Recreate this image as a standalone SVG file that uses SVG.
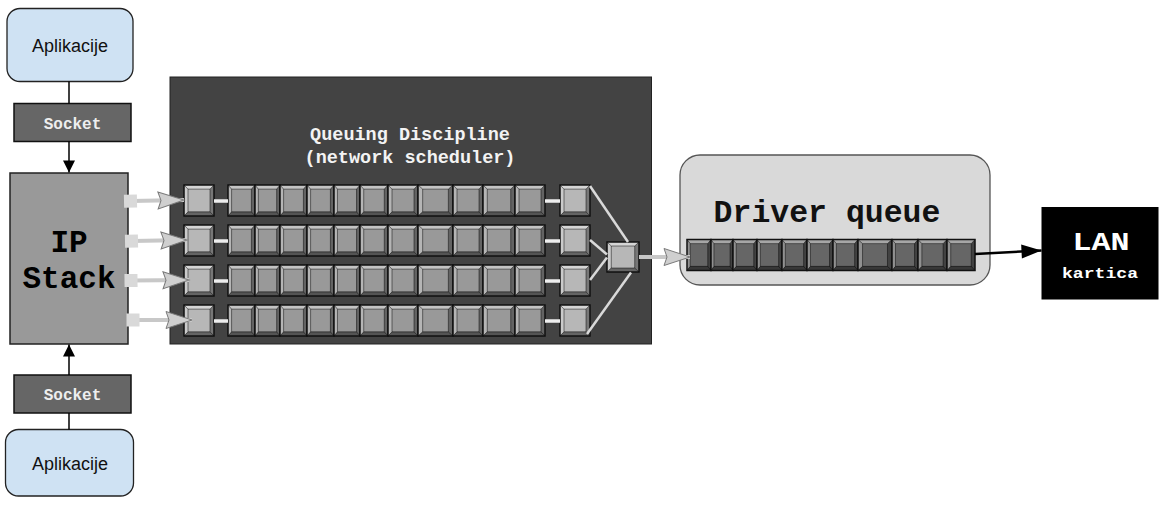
<svg xmlns="http://www.w3.org/2000/svg" xmlns:xlink="http://www.w3.org/1999/xlink" width="1161" height="505" viewBox="0 0 1161 505">
<style>
.app{fill:#cfe2f3;stroke:#222;stroke-width:1.3}
.apptxt{font-family:"Liberation Sans",Arial,sans-serif;font-size:18px;fill:#111;text-anchor:middle}
.sock{fill:#666;stroke:#111;stroke-width:1.5}
.mono{font-family:"Liberation Mono","Courier New",monospace;font-weight:bold;text-anchor:middle}
.socktxt{font-size:16px;fill:#eee}
.blk{stroke:#000;stroke-width:1.5;fill:none}
.wl{stroke:#eeeeee;stroke-width:3.5;fill:none}
.ml{stroke:#d9d9d9;stroke-width:2.5;fill:none}
.ga{stroke:#c8c8c8;stroke-width:4;fill:none}
.l{color:#b7b7b7}
.m{color:#999}
.d{color:#666}
</style>
<defs>
<symbol id="bev" viewBox="0 0 30 30" preserveAspectRatio="none" overflow="visible">
<rect width="30" height="30" fill="currentColor"/>
<polygon points="0,0 30,0 26,4 4,4" fill="#fff" fill-opacity=".42"/>
<polygon points="0,0 4,4 4,26 0,30" fill="#fff" fill-opacity=".28"/>
<polygon points="30,0 30,30 26,26 26,4" fill="#000" fill-opacity=".35"/>
<polygon points="0,30 4,26 26,26 30,30" fill="#000" fill-opacity=".45"/>
<rect x="4" y="4" width="22" height="22" fill="none" stroke="#000" stroke-opacity=".6" stroke-width="0.8" vector-effect="non-scaling-stroke"/>
<path d="M0,0L4,4M30,0L26,4M0,30L4,26M30,30L26,26" stroke="#000" stroke-opacity=".6" stroke-width="0.8" vector-effect="non-scaling-stroke"/>
<rect width="30" height="30" fill="none" stroke="#111" stroke-width="1.5" vector-effect="non-scaling-stroke"/>
</symbol>
<marker id="sq" markerUnits="userSpaceOnUse" markerWidth="14" markerHeight="14" refX="7" refY="7" orient="auto" overflow="visible">
<rect x="0" y="0.5" width="13" height="13" fill="#d9d9d9"/>
</marker>
<marker id="gh" markerUnits="userSpaceOnUse" markerWidth="28" markerHeight="20" refX="26" refY="9" orient="auto" overflow="visible">
<polygon points="0,0.5 26,9 0,17.5 3,9" fill="#cfcfcf" stroke="#7a7a7a" stroke-width="1"/>
</marker>
<marker id="bh" markerUnits="userSpaceOnUse" markerWidth="22" markerHeight="14" refX="20" refY="7" orient="auto" overflow="visible">
<polygon points="0,0 20,7 0,14" fill="#000"/>
</marker>
<marker id="ah" markerUnits="userSpaceOnUse" markerWidth="14" markerHeight="14" refX="12" refY="6" orient="auto" overflow="visible">
<polygon points="0,0 12,6 0,12" fill="#000"/>
</marker>
</defs>
<rect width="1161" height="505" fill="#fff"/>

<g id="qdisc">
<rect x="170" y="77" width="481.5" height="267" fill="#434343" stroke="#222" stroke-width="1"/>
<text class="mono" x="410" y="140" font-size="18.5" fill="#f3f3f3">Queuing Discipline</text>
<text class="mono" x="410" y="163" font-size="18.5" fill="#f3f3f3">(network scheduler)</text>
</g>

<g id="queue-1">
<use href="#bev" class="l" x="184" y="185" width="30" height="31"/>
<use href="#bev" class="m" x="228" y="185" width="27" height="31"/>
<use href="#bev" class="m" x="255" y="185" width="25" height="31"/>
<use href="#bev" class="m" x="280" y="185" width="27" height="31"/>
<use href="#bev" class="m" x="307" y="185" width="27" height="31"/>
<use href="#bev" class="m" x="334" y="185" width="26" height="31"/>
<use href="#bev" class="m" x="360" y="185" width="28" height="31"/>
<use href="#bev" class="m" x="388" y="185" width="30" height="31"/>
<use href="#bev" class="m" x="418" y="185" width="35" height="31"/>
<use href="#bev" class="m" x="453" y="185" width="30" height="31"/>
<use href="#bev" class="m" x="483" y="185" width="32" height="31"/>
<use href="#bev" class="m" x="515" y="185" width="30" height="31"/>
<use href="#bev" class="l" x="560" y="185" width="30" height="31"/>
<line class="wl" x1="214" y1="201" x2="228" y2="201"/>
<line class="wl" x1="545" y1="201" x2="560" y2="201"/>
</g>
<use id="queue-2" href="#queue-1" y="40"/>
<use id="queue-3" href="#queue-1" y="80"/>
<use id="queue-4" href="#queue-1" y="120"/>

<g id="merge">
<use href="#bev" class="l" x="607" y="242" width="32" height="30"/>
</g>

<g id="app-top">
<rect class="app" x="7" y="8.5" width="126" height="73" rx="13"/>
<text class="apptxt" x="70" y="52">Aplikacije</text>
</g>
<g id="socket-top">
<rect class="sock" x="14" y="103.5" width="117" height="38"/>
<text class="mono socktxt" x="72.5" y="129">Socket</text>
</g>
<g id="ip-stack">
<rect x="10" y="173" width="118" height="171" fill="#999" stroke="#222" stroke-width="1.5"/>
<text class="mono" x="69" y="252" font-size="31" fill="#000">IP</text>
<text class="mono" x="69" y="288" font-size="31" fill="#000">Stack</text>
</g>
<g id="socket-bottom">
<rect class="sock" x="14" y="375" width="117" height="38"/>
<text class="mono socktxt" x="72.5" y="400">Socket</text>
</g>
<g id="app-bottom">
<rect class="app" x="5.5" y="429.5" width="128" height="66.5" rx="13"/>
<text class="apptxt" x="70" y="470">Aplikacije</text>
</g>

<g id="driver-queue">
<rect x="680" y="155" width="310" height="130" rx="20" fill="#d9d9d9" stroke="#555" stroke-width="1.3"/>
<text class="mono" x="827" y="221.5" font-size="31.5" fill="#111">Driver queue</text>
<use href="#bev" class="d" x="687" y="239.5" width="24" height="31"/>
<use href="#bev" class="d" x="711" y="239.5" width="22" height="31"/>
<use href="#bev" class="d" x="733" y="239.5" width="24" height="31"/>
<use href="#bev" class="d" x="757" y="239.5" width="25" height="31"/>
<use href="#bev" class="d" x="782" y="239.5" width="25" height="31"/>
<use href="#bev" class="d" x="807" y="239.5" width="26" height="31"/>
<use href="#bev" class="d" x="833" y="239.5" width="25" height="31"/>
<use href="#bev" class="d" x="858" y="239.5" width="34" height="31"/>
<use href="#bev" class="d" x="892" y="239.5" width="26" height="31"/>
<use href="#bev" class="d" x="918" y="239.5" width="29" height="31"/>
<use href="#bev" class="d" x="947" y="239.5" width="28" height="31"/>
</g>

<g id="lan">
<rect x="1041.5" y="207" width="117" height="92.5" fill="#000"/>
<text class="mono" x="1101" y="250" font-size="26" fill="#fff" textLength="57" lengthAdjust="spacingAndGlyphs">LAN</text>
<text class="mono" x="1100" y="278" font-size="15.5" fill="#fff" textLength="76" lengthAdjust="spacingAndGlyphs">kartica</text>
</g>

<g id="connectors">
<line class="blk" x1="69" y1="81.5" x2="69" y2="103.5"/>
<line class="blk" x1="69" y1="141.5" x2="69" y2="172.5" marker-end="url(#ah)"/>
<line class="blk" x1="69" y1="375" x2="69" y2="344.5" marker-end="url(#ah)"/>
<line class="blk" x1="69" y1="413" x2="69" y2="429.5"/>
<line class="ga" x1="131" y1="201" x2="184" y2="200" marker-start="url(#sq)" marker-end="url(#gh)"/>
<line class="ga" x1="132" y1="241" x2="187" y2="240" marker-start="url(#sq)" marker-end="url(#gh)"/>
<line class="ga" x1="131.5" y1="280.5" x2="189" y2="280" marker-start="url(#sq)" marker-end="url(#gh)"/>
<line class="ga" x1="133.5" y1="320" x2="192" y2="320" marker-start="url(#sq)" marker-end="url(#gh)"/>
<line class="ml" x1="590" y1="186" x2="628" y2="242"/>
<line class="ml" x1="590" y1="240" x2="607" y2="254.5"/>
<line class="ml" x1="590" y1="280" x2="607" y2="257.5"/>
<line class="ml" x1="587" y1="334" x2="631" y2="272.5"/>
<line class="ga" x1="639" y1="257" x2="690" y2="257" marker-end="url(#gh)"/>
<line x1="975" y1="254" x2="1041.5" y2="250.5" stroke="#000" stroke-width="2.5" marker-end="url(#bh)"/>
</g>
</svg>
